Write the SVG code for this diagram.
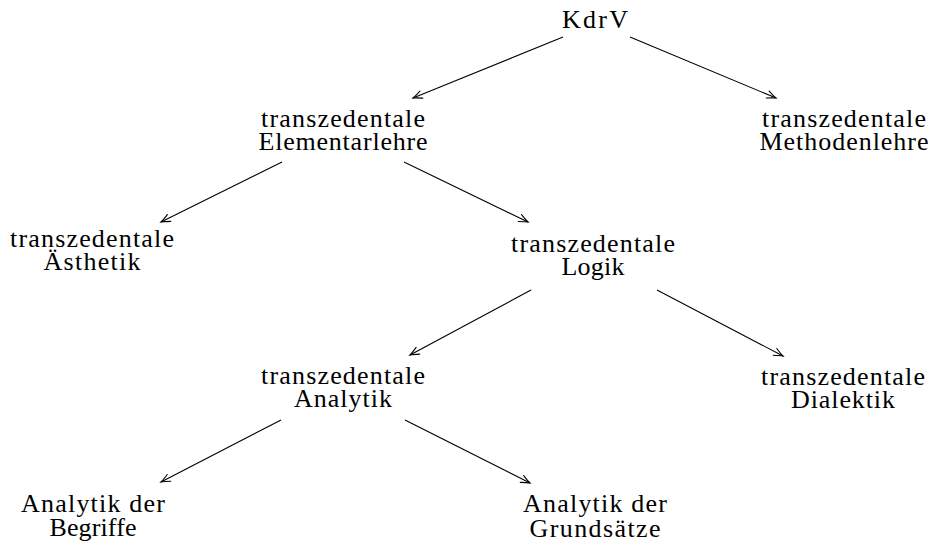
<svg xmlns="http://www.w3.org/2000/svg" width="930" height="544" viewBox="0 0 930 544">
  <style>
    text { font-family: "Liberation Serif", "Times New Roman", serif; font-size: 26px; fill: #000; text-anchor: middle; }
    .edge { stroke: #000; stroke-width: 1.1; fill: none; marker-end: url(#to); }
  </style>
  <defs>
    <marker id="to" markerUnits="userSpaceOnUse" markerWidth="20" markerHeight="20" refX="0" refY="0" orient="auto" overflow="visible">
      <path d="M-9,-3.8 Q-3,-0.9 0,0 Q-3,0.9 -9,3.8" stroke="#000" stroke-width="1.1" fill="none" stroke-linecap="round"/>
    </marker>
  </defs>
  <rect width="930" height="544" fill="#fff"/>
  <g id="connectors">
    <line class="edge" x1="563" y1="37" x2="413" y2="98"/>
    <line class="edge" x1="630" y1="37" x2="776" y2="98"/>
    <line class="edge" x1="282" y1="162" x2="161" y2="222"/>
    <line class="edge" x1="404" y1="162" x2="528" y2="222"/>
    <line class="edge" x1="531" y1="290" x2="410" y2="355"/>
    <line class="edge" x1="657" y1="290" x2="783" y2="356"/>
    <line class="edge" x1="281" y1="420" x2="161" y2="482"/>
    <line class="edge" x1="405" y1="420" x2="530" y2="483"/>
  </g>
  <g id="kdrv">
    <text x="595" y="28" textLength="66" lengthAdjust="spacing">KdrV</text>
  </g>
  <g id="elementarlehre">
    <text x="343" y="127" textLength="164" lengthAdjust="spacing">transzedentale</text>
    <text x="343" y="150" textLength="169" lengthAdjust="spacing">Elementarlehre</text>
  </g>
  <g id="methodenlehre">
    <text x="844" y="127" textLength="164" lengthAdjust="spacing">transzedentale</text>
    <text x="844" y="150" textLength="169" lengthAdjust="spacing">Methodenlehre</text>
  </g>
  <g id="aesthetik">
    <text x="92" y="247" textLength="164" lengthAdjust="spacing">transzedentale</text>
    <text x="92" y="270" textLength="97" lengthAdjust="spacing">Ästhetik</text>
  </g>
  <g id="logik">
    <text x="593" y="252" textLength="164" lengthAdjust="spacing">transzedentale</text>
    <text x="593" y="275" textLength="63" lengthAdjust="spacing">Logik</text>
  </g>
  <g id="analytik">
    <text x="343" y="384" textLength="164" lengthAdjust="spacing">transzedentale</text>
    <text x="343" y="407" textLength="98" lengthAdjust="spacing">Analytik</text>
  </g>
  <g id="dialektik">
    <text x="843" y="385" textLength="164" lengthAdjust="spacing">transzedentale</text>
    <text x="843" y="408" textLength="104" lengthAdjust="spacing">Dialektik</text>
  </g>
  <g id="begriffe">
    <text x="93" y="512" textLength="144" lengthAdjust="spacing">Analytik der</text>
    <text x="93" y="536" textLength="87" lengthAdjust="spacing">Begriffe</text>
  </g>
  <g id="grundsaetze">
    <text x="595" y="512" textLength="144" lengthAdjust="spacing">Analytik der</text>
    <text x="595" y="537" textLength="131" lengthAdjust="spacing">Grundsätze</text>
  </g>
</svg>
